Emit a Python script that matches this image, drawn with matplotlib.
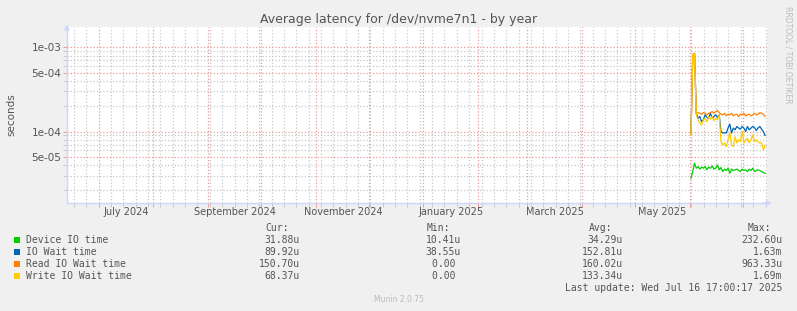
import pandas as pd
import matplotlib
matplotlib.use('Agg')
import matplotlib.pyplot as plt
import matplotlib.dates as mdates
from matplotlib.ticker import FixedLocator, NullFormatter
from matplotlib.patches import Rectangle

# valores diarios en microsegundos, a partir del 1 de junio de 2025
fechas = pd.date_range('2025-06-01 18:00', periods=43, freq='D')
device_io = [28.0, 33.5, 42.1, 36.7, 38.4, 35.8, 37.8, 36.7, 38.4, 35.1,
             37.8, 36.7, 39.1, 35.8, 36.7, 40.2, 35.1, 37.4, 33.5, 35.8,
             34.4, 36.7, 32.0, 35.8, 34.4, 35.1, 35.8, 34.4, 33.5, 35.8,
             34.4, 35.1, 33.5, 35.8, 34.4, 36.7, 33.5, 34.4, 35.1, 34.4,
             33.5, 32.6, 31.9]
io_wait = [93, 820, 850, 165, 144, 151, 131, 138, 158, 148,
           144, 165, 144, 151, 158, 148, 158, 100, 96, 97,
           96, 110, 123, 96, 110, 105, 115, 110, 107, 115,
           110, 100, 115, 105, 110, 115, 112, 103, 110, 115,
           107, 100, 90]
read_wait = [93, 815, 853, 165, 168, 165, 161, 168, 165, 158,
             165, 168, 173, 165, 173, 178, 168, 161, 158, 165,
             154, 161, 158, 165, 154, 158, 161, 151, 161, 158,
             165, 154, 158, 161, 154, 158, 165, 158, 161, 168,
             165, 161, 151]
write_wait = [90, 815, 853, 158, 138, 126, 120, 138, 144, 131,
              151, 140, 151, 135, 144, 138, 158, 76, 69.5, 73,
              66.4, 80, 97, 69.5, 66.4, 87, 73, 80, 76, 100,
              73, 80, 83.5, 74, 80, 91, 76, 80, 76, 73,
              74, 60.6, 68.4]

nombres = ["Device IO time", "IO Wait time", "Read IO Wait time", "Write IO Wait time"]
colores = ["#00CC00", "#0066B3", "#FF8000", "#FFCC00"]
cur = ["31.88u", "89.92u", "150.70u", "68.37u"]
minimo = ["10.41u", "38.55u", "0.00 ", "0.00 "]
promedio = ["34.29u", "152.81u", "160.02u", "133.34u"]
maximo = ["232.60u", "1.63m", "963.33u", "1.69m"]

meses_etiqueta = ["2024-07", "2024-09", "2024-11", "2025-01", "2025-03", "2025-05"]
texto_etiqueta = ["July 2024", "September 2024", "November 2024",
                  "January 2025", "March 2025", "May 2025"]

W, H = 797, 311
def fx(px):
    return px / W
def fy(py):
    return 1 - py / H

GRIS = '#555555'
fig = plt.figure(figsize=(W / 100, H / 100), dpi=100, facecolor='#F0F0F0')
ax = fig.add_axes([fx(67), fy(203), 700 / W, 176 / H])
ax.set_facecolor('white')

for datos, color in zip([device_io, io_wait, read_wait, write_wait], colores):
    ax.plot(fechas, [v * 1e-6 for v in datos], color=color, lw=0.9, zorder=3)

ax.set_yscale('log')
ax.set_ylim(1.416e-5, 1.751e-3)
ax.set_xlim(pd.Timestamp('2024-06-13 01:00'), pd.Timestamp('2025-07-14 20:00'))

# rejilla logaritmica: mayores en 1 y 5, menores en el resto
mayores = [5e-5, 1e-4, 5e-4, 1e-3]
menores = [m * d for d in [1e-5, 1e-4, 1e-3] for m in [2, 3, 4, 6, 7, 8, 9]]
ax.yaxis.set_major_locator(FixedLocator(mayores))
ax.set_yticklabels(["5e-05", "1e-04", "5e-04", "1e-03"])
ax.yaxis.set_minor_locator(FixedLocator(menores))
ax.yaxis.set_minor_formatter(NullFormatter())

ax.xaxis.set_major_locator(mdates.MonthLocator())
ax.xaxis.set_major_formatter(NullFormatter())
ax.xaxis.set_minor_locator(mdates.WeekdayLocator(byweekday=mdates.MO))

ax.grid(which='minor', color='#C8C8C8', linestyle=(0, (1, 1.6)), lw=0.9, snap=True)
ax.grid(which='major', color='#EE9A9A', linestyle=(0, (1, 1.6)), lw=0.9, snap=True)
ax.set_axisbelow(True)

ax.tick_params(which='both', length=3, width=0.7, color='#C8C8C8', direction='out',
               labelsize=7.5, labelcolor=GRIS, pad=1)
ax.tick_params(axis='x', which='major', color='#EE9A9A')
ax.tick_params(axis='y', which='major', color='#EE9A9A')

for lado in ['top', 'right']:
    ax.spines[lado].set_visible(False)
for lado in ['left', 'bottom']:
    ax.spines[lado].set_color('#CFD6F8')
    ax.spines[lado].set_linewidth(1)

# flechas de los ejes
ax.annotate('', xy=(1.011, 0), xytext=(0.99, 0), xycoords='axes fraction',
            arrowprops=dict(arrowstyle='-|>', color='#CFD6F8', lw=1, mutation_scale=7))
ax.annotate('', xy=(0, 1.03), xytext=(0, 0.98), xycoords='axes fraction',
            arrowprops=dict(arrowstyle='-|>', color='#CFD6F8', lw=1, mutation_scale=7))

for mes, texto in zip(meses_etiqueta, texto_etiqueta):
    pos = pd.Timestamp(mes + '-01') + pd.Timedelta(days=15.5)
    ax.text(pos, -0.05, texto, transform=ax.get_xaxis_transform(),
            ha='center', va='center', fontsize=7, color=GRIS)

fig.text(0.5, fy(19), "Average latency for /dev/nvme7n1 - by year",
         ha='center', va='center', fontsize=9, color=GRIS)
fig.text(fx(11), fy(115), "seconds", rotation=90, ha='center', va='center',
         fontsize=7.5, color=GRIS)
fig.text(fx(788), fy(55), "RRDTOOL / TOBI OETIKER", rotation=270, ha='center',
         va='center', fontsize=5.5, color='#BBBBBB')

# leyenda estilo rrdtool
mono = dict(family='DejaVu Sans Mono', fontsize=7, color=GRIS, va='center')
columnas = [300, 461, 623, 782]
for x, titulo in zip(columnas, ["Cur:", "Min:", "Avg:", "Max:"]):
    fig.text(fx(x - 11), fy(228), titulo, ha='right', **mono)
filas = [240, 252, 264, 276]
for i, y in enumerate(filas):
    fig.add_artist(Rectangle((fx(14), fy(y + 3)), 6 / W, 6 / H,
                             transform=fig.transFigure, color=colores[i], lw=0))
    fig.text(fx(26), fy(y), nombres[i], ha='left', **mono)
    for x, col in zip(columnas, [cur, minimo, promedio, maximo]):
        fig.text(fx(x), fy(y), col[i], ha='right', **mono)
fig.text(fx(782), fy(288), "Last update: Wed Jul 16 17:00:17 2025", ha='right', **mono)
fig.text(0.5, fy(300), "Munin 2.0.75", ha='center', va='center', fontsize=5.5,
         color='#BBBBBB')

fig.savefig('out.png', dpi=100, facecolor=fig.get_facecolor())
